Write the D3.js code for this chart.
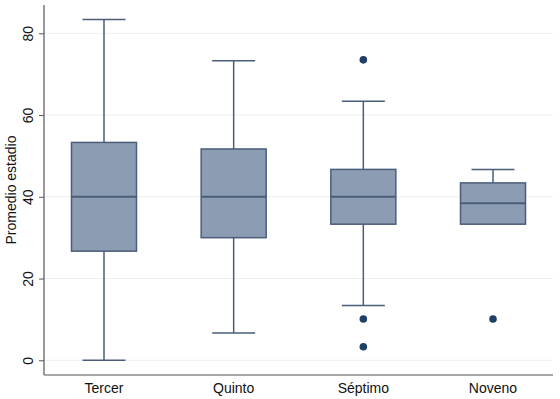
<!DOCTYPE html>
<html>
<head>
<meta charset="utf-8">
<script src="https://cdn.jsdelivr.net/npm/d3@7"></script>
<style>
html,body{margin:0;padding:0;background:#fff;}
svg{display:block;font-family:"Liberation Sans",Arial,sans-serif;}
</style>
</head>
<body>
<svg id="chart" width="560" height="399"></svg>
<script>
const categories = ["Tercer", "Quinto", "Séptimo", "Noveno"];
const whiskerLow = [0, 6.7, 13.4, 33.3];
const q1 = [26.7, 30.0, 33.3, 33.3];
const median = [40.0, 40.0, 40.0, 38.4];
const q3 = [53.3, 51.7, 46.7, 43.4];
const whiskerHigh = [83.4, 73.3, 63.4, 46.7];
const outliers = [[], [], [73.5, 10.1, 3.3], [10.1]];
const yTicks = [0, 20, 40, 60, 80];

(function () {
const svg = d3.select("#chart");
const pL = 44, pR = 553, pT = 5, pB = 375;

const y = d3.scaleLinear().domain([0, 80]).range([360.3, 33.3]);
const x = d3.scalePoint().domain(categories).range([pL, pR]).padding(0.4627);

const fill = "#8c9cb2", stroke = "#4a5d7a", dot = "#1f3f66";

// gridlines
svg.append("g").selectAll("line").data(yTicks).join("line")
  .attr("x1", pL).attr("x2", pR)
  .attr("y1", d => y(d)).attr("y2", d => y(d))
  .attr("stroke", "#eceff2").attr("stroke-width", 1);

// axes
const yAxis = d3.axisLeft(y).tickValues(yTicks).tickSize(5).tickPadding(4);
const gy = svg.append("g").attr("transform", `translate(${pL},0)`).call(yAxis);
gy.select(".domain").remove();
gy.selectAll(".tick line").attr("stroke", "#555");
gy.selectAll(".tick text")
  .attr("font-size", 14).attr("fill", "#111")
  .attr("transform", "rotate(-90)")
  .attr("x", 0).attr("y", -11)
  .attr("dy", "0")
  .attr("text-anchor", "middle");

svg.append("line").attr("x1", pL).attr("x2", pL).attr("y1", pT).attr("y2", pB)
  .attr("stroke", "#555").attr("stroke-width", 1.2);
svg.append("line").attr("x1", pL).attr("x2", pR).attr("y1", pB).attr("y2", pB)
  .attr("stroke", "#555").attr("stroke-width", 1.2);

// category labels
svg.append("g").selectAll("text").data(categories).join("text")
  .attr("x", d => x(d)).attr("y", 393)
  .attr("text-anchor", "middle").attr("font-size", 14).attr("fill", "#111")
  .text(d => d);

// y title
svg.append("text")
  .attr("transform", `translate(16,${(pT + pB) / 2}) rotate(-90)`)
  .attr("text-anchor", "middle").attr("font-size", 14).attr("fill", "#111")
  .text("Promedio estadio");

const boxW = 65, capW = 43;
const g = svg.append("g");
categories.forEach((c, i) => {
  const cx = x(c);
  g.append("line").attr("x1", cx).attr("x2", cx).attr("y1", y(q3[i])).attr("y2", y(whiskerHigh[i]))
    .attr("stroke", stroke).attr("stroke-width", 1.5);
  g.append("line").attr("x1", cx).attr("x2", cx).attr("y1", y(q1[i])).attr("y2", y(whiskerLow[i]))
    .attr("stroke", stroke).attr("stroke-width", 1.5);
  g.append("line").attr("x1", cx - capW / 2).attr("x2", cx + capW / 2)
    .attr("y1", y(whiskerHigh[i])).attr("y2", y(whiskerHigh[i]))
    .attr("stroke", stroke).attr("stroke-width", 1.5);
  if (whiskerLow[i] < q1[i]) {
    g.append("line").attr("x1", cx - capW / 2).attr("x2", cx + capW / 2)
      .attr("y1", y(whiskerLow[i])).attr("y2", y(whiskerLow[i]))
      .attr("stroke", stroke).attr("stroke-width", 1.5);
  }
  g.append("rect").attr("x", cx - boxW / 2).attr("width", boxW)
    .attr("y", y(q3[i])).attr("height", y(q1[i]) - y(q3[i]))
    .attr("fill", fill).attr("stroke", stroke).attr("stroke-width", 1.5);
  g.append("line").attr("x1", cx - boxW / 2).attr("x2", cx + boxW / 2)
    .attr("y1", y(median[i])).attr("y2", y(median[i]))
    .attr("stroke", stroke).attr("stroke-width", 2);
  g.selectAll(null).data(outliers[i]).join("circle")
    .attr("cx", cx).attr("cy", d => y(d)).attr("r", 3.8).attr("fill", dot);
});
})();
</script>
</body>
</html>
